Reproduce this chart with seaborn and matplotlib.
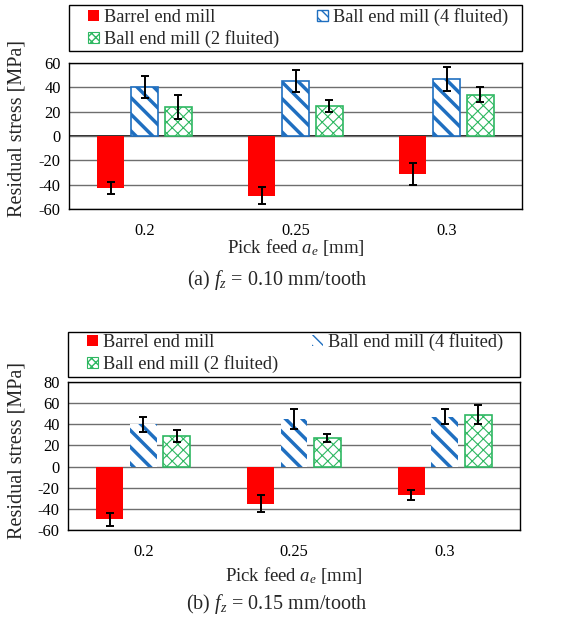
import numpy as np
import pandas as pd
import matplotlib
matplotlib.use('Agg')
import matplotlib.pyplot as plt
import seaborn as sns
from matplotlib.patches import Patch, Rectangle

# ---------------- data ----------------
pick_feed = ['0.2', '0.25', '0.3']
tools = ['Barrel end mill', 'Ball end mill (4 fluited)', 'Ball end mill (2 fluited)']

# (a) fz = 0.10 mm/tooth
a_barrel = [-43, -49, -31]
a_ball4 = [40, 45, 47]
a_ball2 = [24, 25, 34]
a_barrel_err = [5, 7, 9]
a_ball4_err = [9, 9, 10]
a_ball2_err = [10, 5, 6]

# (b) fz = 0.15 mm/tooth
b_barrel = [-50, -35, -27]
b_ball4 = [40, 45, 47]
b_ball2 = [29, 27, 49]
b_barrel_err = [6, 8, 5]
b_ball4_err = [7, 9, 7]
b_ball2_err = [6, 4, 9]

a_ticks = [-60, -40, -20, 0, 20, 40, 60]
b_ticks = [-60, -40, -20, 0, 20, 40, 60, 80]

# ---------------- style ----------------
sns.set_style('white')
SERIF = ['Liberation Serif', 'DejaVu Serif']
plt.rcParams['font.family'] = SERIF
plt.rcParams['mathtext.fontset'] = 'custom'
plt.rcParams['mathtext.rm'] = 'Liberation Serif'
plt.rcParams['mathtext.it'] = 'Liberation Serif:italic'
plt.rcParams['hatch.linewidth'] = 1.0

RED = '#ff0000'
BLUE = '#1f6fc0'
GREEN = '#2fb862'
palette = {tools[0]: RED, tools[1]: BLUE, tools[2]: GREEN}

W, H = 574, 620
fig = plt.figure(figsize=(W / 100, H / 100), dpi=100)


def px_axes(left, top, right, bottom):
    return fig.add_axes([left / W, (H - bottom) / H, (right - left) / W, (bottom - top) / H])


def draw(ax, barrel, ball4, ball2, errs, ticks, edge4, zero_black):
    df = pd.DataFrame({
        'feed': pick_feed * 3,
        'tool': np.repeat(tools, len(pick_feed)),
        'value': list(barrel) + list(ball4) + list(ball2),
    })
    ax.set_axisbelow(True)
    sns.barplot(data=df, x='feed', y='value', hue='tool', order=pick_feed,
                hue_order=tools, palette=palette, width=0.667, gap=0.2,
                errorbar=None, saturation=1, legend=False, ax=ax)
    for cont, tool, err in zip(ax.containers, tools, errs):
        xs, ys = [], []
        for bar in cont:
            if tool == tools[0]:
                bar.set_facecolor(RED)
                bar.set_edgecolor('none')
            elif tool == tools[1]:
                bar.set_facecolor('white')
                bar.set_edgecolor(BLUE)
                bar.set_hatch('\\\\')
                if hasattr(bar, 'set_hatch_linewidth'):
                    bar.set_hatch_linewidth(2.5)
                bar.set_linewidth(1.2 if edge4 else 0)
            else:
                bar.set_facecolor('white')
                bar.set_edgecolor(GREEN)
                bar.set_hatch('xxx')
                if hasattr(bar, 'set_hatch_linewidth'):
                    bar.set_hatch_linewidth(0.8)
                bar.set_linewidth(1.2)
            xs.append(bar.get_x() + bar.get_width() / 2)
            ys.append(bar.get_y() + bar.get_height())
        ax.errorbar(xs, ys, yerr=err, fmt='none', ecolor='black', elinewidth=1.4,
                    capsize=3.2, capthick=1.4, zorder=5)
    ax.set_ylim(ticks[0], ticks[-1])
    ax.set_xlim(-0.5, len(pick_feed) - 0.5)
    ax.set_yticks(ticks)
    ax.set_yticklabels([str(t) for t in ticks])
    ax.yaxis.grid(True, color='#6e6e6e', linewidth=1.0)
    if zero_black:
        ax.axhline(0, color='black', linewidth=1.2, zorder=0.5)
    ax.tick_params(axis='both', length=0, labelsize=11.8, colors='black')
    ax.tick_params(axis='x', pad=10)
    ax.tick_params(axis='y', pad=6)
    for s in ax.spines.values():
        s.set_visible(True)
        s.set_color('black')
        s.set_linewidth(1.0)
    ax.set_xlabel(r'Pick feed $a_e$ [mm]', fontsize=13.5)
    ax.set_ylabel('Residual stress [MPa]', fontsize=14.5)


LEG_FS = 13.2


def make_legend(ax, first_x, row1_top, colspacing, edge4):
    h_barrel = Patch(facecolor=RED, edgecolor='none', label=tools[0])
    h_ball2 = Patch(facecolor='white', edgecolor=GREEN, hatch='xxxx', linewidth=0.8, label=tools[2])
    h_ball4 = Patch(facecolor='white', edgecolor=BLUE, hatch='\\\\\\',
                    linewidth=1.0 if edge4 else 0, label=tools[1])
    return ax.legend(handles=[h_barrel, h_ball2, h_ball4], loc='upper left',
                     bbox_to_anchor=(first_x / W, (H - row1_top) / H),
                     bbox_transform=fig.transFigure, ncol=2,
                     frameon=False, prop={'family': SERIF, 'size': LEG_FS},
                     handlelength=0.58, handleheight=0.58, handletextpad=0.28,
                     borderaxespad=0, borderpad=0, labelspacing=0.22,
                     columnspacing=colspacing)


def add_legend(ax, box, first_x, row1_top, col2_x, edge4):
    l, t, r, b = box
    fig.add_artist(Rectangle((l / W, (H - b) / H), (r - l) / W, (b - t) / H,
                             transform=fig.transFigure, fill=False,
                             edgecolor='black', linewidth=1.0, zorder=3))
    em = LEG_FS * 100 / 72
    # first pass: measure, to place column 2 at col2_x
    tmp = make_legend(ax, first_x, row1_top, 1.0, edge4)
    fig.canvas.draw()
    renderer = fig.canvas.get_renderer()
    texts = tmp.get_texts()
    col1_right = max(texts[0].get_window_extent(renderer).x1,
                     texts[1].get_window_extent(renderer).x1)
    h2_x0 = tmp.legend_handles[2].get_window_extent(renderer).x0
    cur_gap = h2_x0 - col1_right
    want_gap = col2_x - col1_right
    tmp.remove()
    return make_legend(ax, first_x, row1_top, 1.0 + (want_gap - cur_gap) / em, edge4)


# panel (a)
ax_a = px_axes(69, 63, 522, 209)
draw(ax_a, a_barrel, a_ball4, a_ball2, [a_barrel_err, a_ball4_err, a_ball2_err],
     a_ticks, edge4=True, zero_black=True)
ax_a.xaxis.set_label_coords(0.5, -39 / 146)
ax_a.xaxis.label.set_va('center')
ax_a.yaxis.set_label_coords((27 - 69) / 453, 0.55)
fig.text(277 / W, (H - 280) / H, r'(a) $f_z$ = 0.10 mm/tooth', ha='center', va='center', fontsize=14.5)

# panel (b)
ax_b = px_axes(68, 382, 520, 530)
draw(ax_b, b_barrel, b_ball4, b_ball2, [b_barrel_err, b_ball4_err, b_ball2_err],
     b_ticks, edge4=False, zero_black=False)
ax_b.xaxis.set_label_coords(0.5, -45 / 148)
ax_b.xaxis.label.set_va('center')
ax_b.yaxis.set_label_coords((27 - 68) / 452, 0.54)
fig.text(277 / W, (H - 604) / H, r'(b) $f_z$ = 0.15 mm/tooth', ha='center', va='center', fontsize=14.5)

add_legend(ax_a, (69, 5, 522, 51), 88, 8, 317, True)
add_legend(ax_b, (68, 332, 520, 377), 87, 333, 312, False)

fig.savefig('out.png', dpi=100, facecolor='white')
